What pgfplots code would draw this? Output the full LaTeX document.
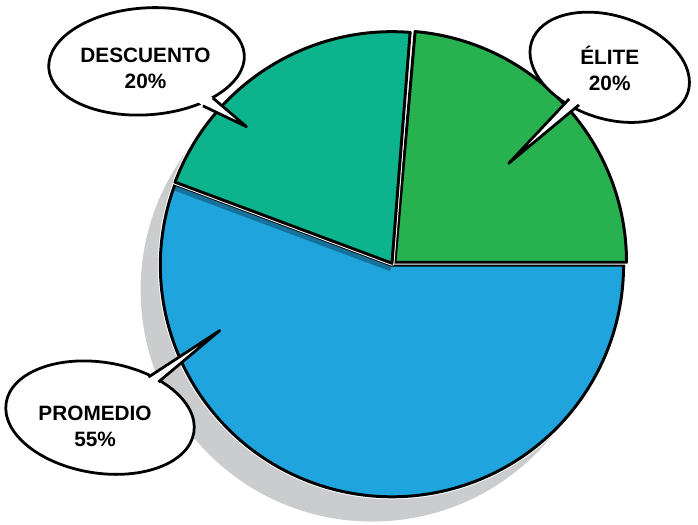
\documentclass[border=0pt]{standalone}
\usepackage{pgfplots}
\pgfplotsset{compat=1.18}
\usepackage{fontspec}
\setmainfont{Liberation Sans}

\definecolor{promedio}{HTML}{20A4DE}
\definecolor{descuento}{HTML}{0DB38C}
\definecolor{elite}{HTML}{28B14F}
\definecolor{shadowgray}{HTML}{CBCCCD}

% slice: start angle, end angle, offset x, offset y, colour (radius 234)
\newcommand{\slice}[5]{%
  \draw[white, line width=5pt, line join=round]
    (axis cs:#3,#4) -- ++(#1:234pt) arc[start angle=#1, end angle=#2, radius=234pt] -- cycle;
  \filldraw[fill=#5, draw=black, line width=3pt, line join=round]
    (axis cs:#3,#4) -- ++(#1:234pt) arc[start angle=#1, end angle=#2, radius=234pt] -- cycle;
}

% bubble: centre x, y, x radius, y radius, rotation, tail base 1, tip, base 2
\newcommand{\bubble}[8]{%
  \coordinate (bc) at (axis cs:#1,#2);
  \filldraw[fill=white, draw=black, line width=2.8pt, rotate around={#5:(bc)}]
    (bc) ellipse[x radius=#3pt, y radius=#4pt];
  \fill[white] (axis cs:#6) -- (axis cs:#7) -- (axis cs:#8) -- (bc) -- cycle;
  \draw[black, line width=2.8pt, line join=round] (axis cs:#6) -- (axis cs:#7) -- (axis cs:#8);
}

\begin{document}
\begin{tikzpicture}[lbl/.style={align=center, font=\fontsize{21}{26}\selectfont\bfseries}]
\begin{axis}[x=1pt, y=1pt,
             xmin=-394, xmax=304,
             ymin=-262, ymax=268,
             hide axis, clip=false]
  \path (axis cs:-394,-262) rectangle (axis cs:304,268);

  % shadow
  \fill[shadowgray] (axis cs:-20,-25) circle[radius=234pt];

  % slices
  \slice{159.5}{360}{0}{0}{promedio}
  \slice{0}{85}{3}{3}{elite}
  \fill[black, opacity=0.3] (axis cs:0,2) -- ++(159.5:234pt) -- ++(-2pt,-8pt) -- (axis cs:-2,-6) -- cycle;
  \slice{85.5}{159.5}{0}{2}{descuento}

  % callouts
  \bubble{-248}{206}{99}{54}{4}{-181,169}{-147,140}{-191,161}
  \node[lbl] at (axis cs:-249,199) {DESCUENTO\\20\%};
  \bubble{220}{200}{83}{52}{-18}{179,168}{118,103}{189,162}
  \node[lbl] at (axis cs:220,199) {ÉLITE\\20\%};
  \bubble{-295}{-154}{96}{56}{-9}{-246,-113}{-174,-66}{-236,-118}
  \node[lbl] at (axis cs:-300,-163) {PROMEDIO\\55\%};
\end{axis}
\end{tikzpicture}
\end{document}
